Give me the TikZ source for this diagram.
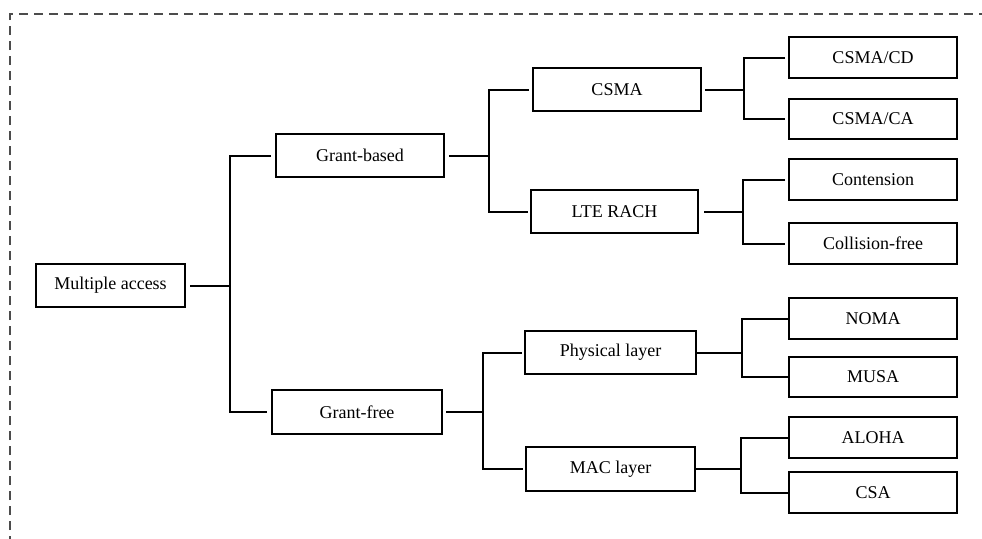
\documentclass[tikz,border=0pt]{standalone}
\usepackage{fontspec}
\setmainfont{Liberation Serif}
\begin{document}
\begin{tikzpicture}[x=1pt, y=-1pt,
  box/.style={draw=black, line width=2pt, fill=white, inner sep=0pt,
    minimum width=168pt, minimum height=42pt,
    font=\fontsize{18}{20}\selectfont},
  conn/.style={draw=black, line width=2pt, line join=miter},
  frame/.style={draw=black!70, line width=1.3pt, dash pattern=on 9pt off 6pt}]
\useasboundingbox (0,0) rectangle (982,538);

% outer dashed frame (top and left edges only)
\draw[frame] (10,545) -- (10,14) -- (995,14);

% level 0
\node[box, minimum width=149pt, minimum height=43pt] (ma) at (110.5,285.5) {Multiple access};

% level 1
\node[box, minimum height=43pt] (gb) at (360,155.5) {Grant-based};
\node[box, minimum width=170pt, minimum height=44pt] (gf) at (357,412) {Grant-free};

% level 2
\node[box, minimum height=43pt] (csma) at (617,89.5) {CSMA};
\node[box, minimum width=167pt, minimum height=43pt] (lte) at (614.5,211.5) {LTE RACH};
\node[box, minimum width=171pt, minimum height=43pt] (phy) at (610.5,352.5) {Physical layer};
\node[box, minimum width=169pt, minimum height=44pt] (mac) at (610.5,469) {MAC layer};

% level 3
\node[box, minimum height=41pt] (cd) at (873,57.5) {CSMA/CD};
\node[box, minimum height=40pt] (ca) at (873,119) {CSMA/CA};
\node[box, minimum height=41pt] (cont) at (873,179.5) {Contension};
\node[box, minimum height=41pt] (coll) at (873,243.5) {Collision-free};
\node[box, minimum height=41pt] (noma) at (873,318.5) {NOMA};
\node[box, minimum height=40pt] (musa) at (873,377) {MUSA};
\node[box, minimum height=41pt] (aloha) at (873,437.5) {ALOHA};
\node[box, minimum height=41pt] (csa) at (873,492.5) {CSA};

% bus positions of the tree connectors
\coordinate (b0) at (230,0);
\coordinate (b1) at (489,0);
\coordinate (b2) at (483,0);
\coordinate (b3) at (744,0);
\coordinate (b4) at (743,0);
\coordinate (b5) at (742,0);
\coordinate (b6) at (741,0);

% Multiple access -> Grant-based / Grant-free
\draw[conn] ([xshift=4pt]ma.east) -- (ma.east -| b0);
\draw[conn] ([xshift=-4pt]gb.west) -- (gb.west -| b0) -- (gf.west -| b0) -- ([xshift=-4pt]gf.west);

% Grant-based -> CSMA / LTE RACH
\draw[conn] ([xshift=4pt]gb.east) -- (gb.east -| b1);
\draw[conn] ([xshift=-3pt]csma.west) -- (csma.west -| b1) -- (lte.west -| b1) -- ([xshift=-2pt]lte.west);

% Grant-free -> Physical layer / MAC layer
\draw[conn] ([xshift=3pt]gf.east) -- (gf.east -| b2);
\draw[conn] ([xshift=-2pt]phy.west) -- (phy.west -| b2) -- (mac.west -| b2) -- ([xshift=-2pt]mac.west);

% CSMA -> CSMA/CD / CSMA/CA
\draw[conn] ([xshift=3pt]csma.east) -- (csma.east -| b3);
\draw[conn] ([xshift=-3pt]cd.west) -- (cd.west -| b3) -- (ca.west -| b3) -- ([xshift=-3pt]ca.west);

% LTE RACH -> Contension / Collision-free
\draw[conn] ([xshift=5pt]lte.east) -- (lte.east -| b4);
\draw[conn] ([xshift=-3pt]cont.west) -- (cont.west -| b4) -- (coll.west -| b4) -- ([xshift=-3pt]coll.west);

% Physical layer -> NOMA / MUSA
\draw[conn] (phy.east) -- (phy.east -| b5);
\draw[conn] (noma.west) -- (noma.west -| b5) -- (musa.west -| b5) -- (musa.west);

% MAC layer -> ALOHA / CSA
\draw[conn] (mac.east) -- (mac.east -| b6);
\draw[conn] (aloha.west) -- (aloha.west -| b6) -- (csa.west -| b6) -- (csa.west);
\end{tikzpicture}
\end{document}
